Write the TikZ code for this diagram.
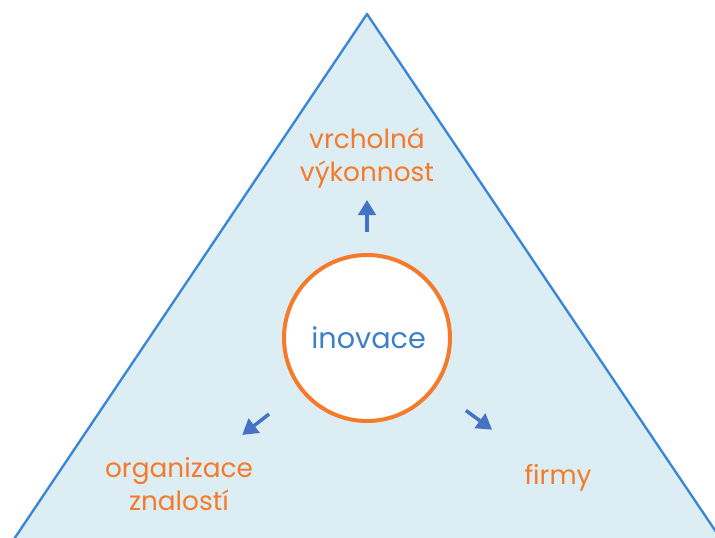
\documentclass[tikz,border=0pt]{standalone}
\usepackage{fontspec}
\setmainfont{Poppins}
\usepackage{tikz}
\usetikzlibrary{positioning}
\usetikzlibrary{arrows.meta}

\definecolor{TriFill}{RGB}{220,238,244}
\definecolor{TriLine}{RGB}{58,134,214}
\definecolor{Oranzova}{RGB}{245,122,42}
\definecolor{Sipka}{RGB}{68,114,196}
\definecolor{Modra}{RGB}{62,128,200}

\tikzset{
    popis/.style={text=Oranzova, align=center, font=\fontsize{22.5}{28.5}\selectfont},
    sipka/.style={draw=Sipka, line width=3pt, -{Triangle[width=15pt,length=13pt]}},
}

\begin{document}
\begin{tikzpicture}
    \useasboundingbox (0,0) rectangle (21.45,16.14);
    \clip (0,0) rectangle (21.45,16.14);

    %Triangle
    \coordinate (Apex) at (11.01,15.72);
    \coordinate (BaseLeft) at (-0.23,-1.00);
    \coordinate (BaseRight) at (22.28,-1.00);
    \draw [TriLine, fill=TriFill, line width=2pt, line join=round] (Apex) -- (BaseLeft) -- (BaseRight) -- cycle;

    %Circle
    \node [circle, draw=Oranzova, fill=white, line width=3.4pt, minimum size=4.98cm, inner sep=0pt,
           text=Modra, font=\fontsize{24.5}{28}\selectfont] (Inovace) at (11.01,6.00) {\hspace{0.1cm}inovace};

    %-------------------------------------------
    %Labels
    \node [popis, on grid, above = 5.40 cm of Inovace] (Vykon) {vrcholná\\výkonnost};
    \node [popis, on grid, below left = 4.38 cm and 5.64 cm of Inovace] (Znalosti) {organizace\\znalostí};
    \node [popis, on grid, below right = 4.20 cm and 5.73 cm of Inovace] (Firmy) {firmy};

    %Arrows
    \draw [sipka, shorten <=3.18cm, shorten >=1.26cm] (Inovace.center) -- (Vykon.center);
    \draw [sipka, shorten <=3.72cm, shorten >=2.40cm] (Inovace.center) -- (Znalosti.center);
    \draw [sipka, shorten <=3.68cm, shorten >=2.45cm] (Inovace.center) -- (Firmy.center);

\end{tikzpicture}
\end{document}
